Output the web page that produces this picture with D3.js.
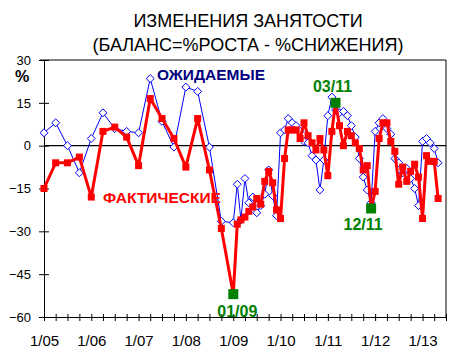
<!DOCTYPE html>
<html><head><meta charset="utf-8">
<script src="https://cdn.jsdelivr.net/npm/d3@7"></script>
<style>body{margin:0;background:#fff}svg{display:block}text{font-family:Arial,"Liberation Sans",sans-serif}</style>
</head><body><svg id="c" width="469" height="361"></svg>
<script>
const titleLines = ["ИЗМЕНЕНИЯ ЗАНЯТОСТИ", "(БАЛАНС=%РОСТА - %СНИЖЕНИЯ)"];
const yTicks = [30, 15, 0, -15, -30, -45, -60];
const xTickLabels = ["1/05","1/06","1/07","1/08","1/09","1/10","1/11","1/12","1/13"];
const seriesNames = ["ОЖИДАЕМЫЕ", "ФАКТИЧЕСКИЕ"];

const actualDates = ["2005-01","2005-04","2005-07","2005-10","2006-01","2006-04","2006-07","2006-10",
 "2007-01","2007-04","2007-07","2007-10","2008-01","2008-04","2008-07","2008-10","2009-01",
 "2009-02","2009-03","2009-04","2009-05","2009-06","2009-07","2009-08","2009-09","2009-10","2009-11","2009-12",
 "2010-01","2010-02","2010-03","2010-04","2010-05","2010-06","2010-07","2010-08","2010-09","2010-10","2010-11","2010-12",
 "2011-01","2011-02","2011-03","2011-04","2011-05","2011-06","2011-07","2011-08","2011-09","2011-10","2011-11","2011-12",
 "2012-01","2012-02","2012-03","2012-04","2012-05","2012-06","2012-07","2012-08","2012-09","2012-10","2012-11","2012-12",
 "2013-01","2013-02","2013-03","2013-04","2013-05"];
const actualValues = [-15,-6,-6,-4,-18,5,6.5,3,
 -7,16.5,9.5,2.5,-7.5,9.5,-8.5,-29,-52,
 -27.5,-26,-25,-23,-21.5,-18.5,-20.5,-12.5,-9,-13,-22.5,
 -25.5,-4.5,5.5,5.5,5.5,2.5,8,3.5,1,-1.5,2.5,-1.5,
 -10.5,5,15,7,0,5,3.5,1,-1,-8.5,-7,-22,
 -16,2.5,8,8,1.5,-2,-13.5,-7.5,-12.5,-9,-6.5,-11,
 -25.5,-3.5,-5.5,-5.5,-18.5];

const expectedDates = actualDates;
const expectedValues = [4.5,8,0,-9.5,2.5,11.5,6,5,
 4.5,23.5,8.5,-0.5,20.5,19,-0.5,-26.5,-27,
 -13.5,-26,-11.5,-20,-18,-23.5,-21,-17,-8.5,-17.5,-24.5,
 4.5,5.5,9.5,8,7,5,1.5,1,-3.5,-5,-15.5,-5,
 10.5,17,12.5,11.5,12,10.5,7,3,-4.5,-11,-15.5,-20,
 5,8,9.5,6,4,-4.5,-6,-9.5,-8,-11.5,-15,-21,
 1.5,2.5,1,-1,-6];

const highlightDates = ["2009-01","2011-03","2011-12"];
const highlightLabels = ["01/09","03/11","12/11"];

const parse = d3.timeParse("%Y-%m");
const svg = d3.select("#c");
const x = d3.scaleTime().domain([new Date(2005,0,1), new Date(2013,6,1)]).range([44, 446]);
const y = d3.scaleLinear().domain([-60, 30]).range([317, 60]);

// title
svg.append("g").selectAll("text").data(titleLines).join("text")
  .attr("x", 248).attr("y", (d,i)=>27 + i*24).attr("text-anchor","middle")
  .attr("font-size", 18).attr("fill","#000").text(d=>d);

// frame lines
svg.append("line").attr("x1", 40).attr("x2", x.range()[1]).attr("y1", y(30)).attr("y2", y(30)).attr("stroke","#000");
svg.append("line").attr("x1", x.range()[1]).attr("x2", x.range()[1]).attr("y1", y(30)).attr("y2", y(-60)).attr("stroke","#000");
svg.append("line").attr("x1", x.range()[0]).attr("x2", x.range()[1]).attr("y1", y(0)).attr("y2", y(0)).attr("stroke","#000").attr("stroke-width",1.3);

// y axis
const ya = svg.append("g").attr("transform", `translate(${x.range()[0]},0)`)
  .call(d3.axisLeft(y).tickValues(yTicks).tickSize(5).tickFormat(d3.format("d")));
ya.select(".domain").attr("stroke","#000");
ya.selectAll(".tick line").attr("x1", 5).attr("x2", -5).attr("stroke","#000");
ya.selectAll(".tick text").attr("x", -13).attr("font-size", 13).attr("fill","#000").attr("font-family",null);
svg.append("text").attr("x", 22).attr("y", 82).attr("text-anchor","middle").attr("font-size",16).attr("font-weight","bold").text("%");

// x axis
const xa = svg.append("g").attr("transform", `translate(0,${y(-60)})`)
  .call(d3.axisBottom(x).ticks(d3.timeMonth.every(3)).tickSize(4)
    .tickFormat(d => d.getMonth() === 0 ? xTickLabels[d.getFullYear() - 2005] : ""));
xa.select(".domain").attr("stroke","#000");
xa.selectAll(".tick line").attr("y1", -3).attr("y2", 4).attr("stroke","#000");
xa.selectAll(".tick text").attr("y", 18).attr("font-size", 15).attr("fill","#000").attr("font-family",null);

// lines
const expData = expectedDates.map((d,i)=>({date:parse(d), v:expectedValues[i]}));
const actData = actualDates.map((d,i)=>({date:parse(d), v:actualValues[i]}));
const line = d3.line().x(d=>x(d.date)).y(d=>y(d.v));

svg.append("path").datum(expData).attr("d", line).attr("fill","none").attr("stroke","#0000ff").attr("stroke-width",1);
svg.append("g").selectAll("path").data(expData).join("path")
  .attr("d", d3.symbol(d3.symbolDiamond2, 40))
  .attr("transform", d=>`translate(${x(d.date)},${y(d.v)})`)
  .attr("fill","#fff").attr("stroke","#0000ff").attr("stroke-width",1);

svg.append("path").datum(actData).attr("d", line).attr("fill","none").attr("stroke","#ff0000").attr("stroke-width",3).attr("stroke-linejoin","round");
svg.append("g").selectAll("rect").data(actData).join("rect")
  .attr("x", d=>x(d.date)-3.5).attr("y", d=>y(d.v)-3.5).attr("width",7).attr("height",7).attr("fill","#ff0000");

// highlighted points
const hl = highlightDates.map((d,i)=>({date:parse(d), v:actualValues[actualDates.indexOf(d)], label:highlightLabels[i]}));
svg.append("g").selectAll("rect").data(hl).join("rect")
  .attr("x", d=>x(d.date)-5).attr("y", d=>y(d.v)-5).attr("width",10).attr("height",10).attr("fill","#008000");
const hlOffsets = [[4,17],[-3,-17],[-8,16]];
svg.append("g").selectAll("text").data(hl).join("text")
  .attr("x", (d,i)=>x(d.date)+hlOffsets[i][0]).attr("y", (d,i)=>y(d.v)+hlOffsets[i][1]+6)
  .attr("text-anchor","middle").attr("font-size",16).attr("font-weight","bold").attr("fill","#008000").text(d=>d.label);

// series labels
svg.append("text").attr("x", 157).attr("y", 80).attr("font-size",15.5).attr("font-weight","bold").attr("fill","#000080").text(seriesNames[0]);
svg.append("text").attr("x", 103).attr("y", 203).attr("font-size",15.5).attr("font-weight","bold").attr("fill","#ff0000").text(seriesNames[1]);
</script></body></html>
